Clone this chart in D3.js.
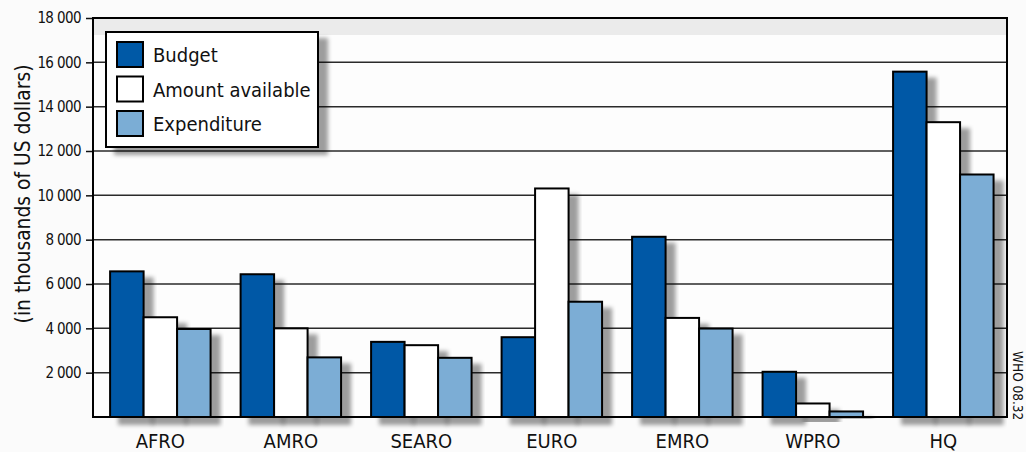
<!DOCTYPE html>
<html>
<head>
<meta charset="utf-8">
<script src="https://cdn.jsdelivr.net/npm/d3@7"></script>
<style>
  body { margin: 0; background: #fbfbfb; }
  svg text { font-family: "Liberation Sans Narrow", "DejaVu Sans Condensed", sans-serif; fill: #111; }
</style>
</head>
<body>
<div id="chart"></div>
<script>
// data (thousands of US dollars)
var categories = ["AFRO", "AMRO", "SEARO", "EURO", "EMRO", "WPRO", "HQ"];
var budget      = [6570, 6440, 3390, 3600, 8130, 2040, 15580];
var available   = [4500, 4000, 3240, 10310, 4470, 610, 13300];
var expenditure = [3970, 2690, 2670, 5200, 3990, 250, 10940];
var seriesNames = ["Budget", "Amount available", "Expenditure"];
var yTicks = [2000, 4000, 6000, 8000, 10000, 12000, 14000, 16000, 18000];

var colors = ["#0059a6", "#ffffff", "#7badd5"];

var rows = categories.map(function(c, i) {
  return { cat: c, values: [budget[i], available[i], expenditure[i]] };
});

var svg = d3.select("#chart").append("svg").attr("width", 1026).attr("height", 452),
    margin = {top: 18, right: 19, bottom: 35, left: 93},
    width = 1026 - margin.left - margin.right,
    height = 452 - margin.top - margin.bottom;

var defs = svg.append("defs");
var f = defs.append("filter").attr("id", "shadow")
  .attr("x", "-20%").attr("y", "-10%").attr("width", "160%").attr("height", "140%");
f.append("feDropShadow").attr("dx", 9).attr("dy", 7).attr("stdDeviation", 2)
  .attr("flood-color", "#000").attr("flood-opacity", 0.38);

var g = svg.append("g").attr("transform", "translate(" + margin.left + "," + margin.top + ")");

var x0 = d3.scaleBand().domain(categories).range([0, width]).paddingInner(0.23).paddingOuter(0.117).align(0.56);
var x1 = d3.scaleBand().domain(d3.range(3)).range([0, x0.bandwidth()]);
var y = d3.scaleLinear().domain([0, 18000]).range([height, 0]);

// plot background
g.append("rect").attr("width", width).attr("height", height).attr("fill", "#fdfdfd");
g.append("rect").attr("width", width).attr("height", 17).attr("fill", "#ebebeb");

// grid lines
g.selectAll(".grid").data(yTicks.slice(0, -1)).enter().append("line")
  .attr("x1", 0).attr("x2", width)
  .attr("y1", function(d) { return y(d); }).attr("y2", function(d) { return y(d); })
  .attr("stroke", "#2a2a2a").attr("stroke-width", 1.5);

// y axis
var yAxis = g.append("g")
  .call(d3.axisLeft(y).tickValues(yTicks).tickSize(7).tickPadding(5)
    .tickFormat(function(d) { return d3.format(",")(d).replace(",", " "); }));
yAxis.select(".domain").remove();
yAxis.selectAll(".tick line").attr("stroke", "#111").attr("stroke-width", 1.5);
yAxis.selectAll("text").style("font-size", "15px").style("letter-spacing", "-0.6px").attr("fill", "#111");

// bars
var groups = g.selectAll(".grp").data(rows).enter().append("g")
  .attr("transform", function(d) { return "translate(" + x0(d.cat) + ",0)"; });

groups.selectAll("rect").data(function(d) { return d.values; }).enter().append("rect")
  .attr("x", function(d, i) { return x1(i); })
  .attr("y", function(d) { return y(d); })
  .attr("width", x1.bandwidth())
  .attr("height", function(d) { return height - y(d); })
  .attr("fill", function(d, i) { return colors[i]; })
  .attr("stroke", "#000").attr("stroke-width", 2)
  .attr("filter", "url(#shadow)");

// frame: left, bottom, top, right
g.append("rect").attr("width", width).attr("height", height)
  .attr("fill", "none").attr("stroke", "#000").attr("stroke-width", 2);

// x axis labels
g.selectAll(".cat").data(categories).enter().append("text")
  .attr("x", function(d) { return x0(d) + x0.bandwidth() / 2; })
  .attr("y", height + 31)
  .attr("text-anchor", "middle")
  .style("font-size", "20px")
  .text(function(d) { return d; });

// y title
svg.append("text")
  .attr("transform", "translate(30,194) rotate(-90)")
  .attr("text-anchor", "middle")
  .style("font-size", "20.8px")
  .text("(in thousands of US dollars)");

// legend
var legend = g.append("g").attr("transform", "translate(13,14)");
legend.append("rect").attr("width", 212).attr("height", 115)
  .attr("fill", "#fff").attr("stroke", "#000").attr("stroke-width", 2)
  .attr("filter", "url(#shadow)");
var items = legend.selectAll(".item").data(seriesNames).enter().append("g")
  .attr("transform", function(d, i) { return "translate(11," + (10 + i * 34.5) + ")"; });
items.append("rect").attr("width", 26).attr("height", 25)
  .attr("fill", function(d, i) { return colors[i]; })
  .attr("stroke", "#000").attr("stroke-width", 2);
items.append("text").attr("x", 36).attr("y", 20)
  .style("font-size", "20px")
  .text(function(d) { return d; });

// code at right edge
svg.append("text")
  .attr("transform", "translate(1013,351) rotate(90)")
  .style("font-size", "13.5px")
  .text("WHO 08.32");
</script>
</body>
</html>
